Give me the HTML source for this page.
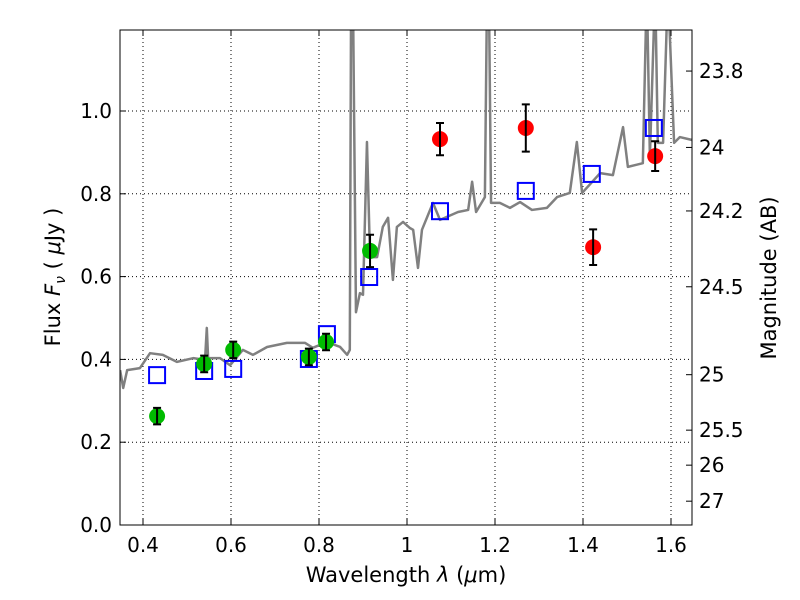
<!DOCTYPE html>
<html><head><meta charset="utf-8">
<style>body{margin:0;background:#fff}svg{display:block;font-family:"DejaVu Sans","Liberation Sans",sans-serif}</style>
</head><body>
<svg id="chart" width="800" height="600" viewBox="0 0 800 600">
<defs><clipPath id="clip"><rect x="120" y="30" width="572" height="495"/></clipPath></defs>
<rect x="0" y="0" width="800" height="600" fill="#fff"/>
<g id="grid"></g>
<g id="spec" clip-path="url(#clip)"></g>
<g id="marks"></g>
<rect x="120" y="30" width="572" height="495" fill="none" stroke="#000" stroke-width="1"/>
<g id="axes"></g>
<text x="406" y="582" font-size="21" text-anchor="middle">Wavelength  <tspan font-style="italic">λ</tspan> (<tspan font-style="italic">μ</tspan>m)</text>
<text transform="translate(60,277) rotate(-90)" font-size="21" text-anchor="middle">Flux  <tspan font-style="italic">F</tspan><tspan font-style="italic" font-size="14" dy="5">ν</tspan><tspan dy="-5">  ( </tspan><tspan font-style="italic">μ</tspan>Jy )</text>
<text transform="translate(776,278) rotate(-90)" font-size="21" text-anchor="middle">Magnitude (AB)</text>
</svg>
<script>
const specWl=[0.348,0.355,0.364,0.393,0.416,0.445,0.477,0.514,0.541,0.545,0.548,0.575,0.598,0.627,0.650,0.682,0.727,0.768,0.786,0.818,0.848,0.864,0.870,0.873,0.877,0.884,0.893,0.900,0.909,0.916,0.932,0.945,0.957,0.968,0.977,0.991,1.007,1.014,1.025,1.034,1.059,1.075,1.116,1.139,1.148,1.157,1.177,1.182,1.186,1.191,1.211,1.234,1.257,1.284,1.318,1.341,1.370,1.386,1.398,1.439,1.468,1.491,1.502,1.536,1.545,1.552,1.564,1.570,1.582,1.593,1.607,1.620,1.648];
const specFlux=[0.374,0.331,0.374,0.379,0.415,0.411,0.394,0.403,0.399,0.476,0.403,0.403,0.386,0.423,0.411,0.430,0.440,0.440,0.428,0.442,0.430,0.411,0.423,1.3,1.3,0.514,0.560,0.556,0.925,0.647,0.647,0.720,0.742,0.592,0.720,0.732,0.717,0.713,0.621,0.713,0.778,0.737,0.756,0.761,0.829,0.756,0.792,1.3,1.3,0.778,0.778,0.766,0.780,0.761,0.766,0.792,0.802,0.925,0.802,0.850,0.845,0.961,0.865,0.874,1.3,0.889,1.3,0.923,0.923,1.3,0.923,0.937,0.930];
const greenWl=[0.432,0.539,0.605,0.777,0.816,0.916];
const greenFlux=[0.263,0.389,0.423,0.406,0.442,0.662];
const greenErr=[0.02,0.02,0.02,0.02,0.02,0.039];
const redWl=[1.075,1.27,1.423,1.564];
const redFlux=[0.932,0.959,0.671,0.891];
const redErr=[0.039,0.057,0.043,0.036];
const modelWl=[0.432,0.539,0.605,0.777,0.818,0.914,1.075,1.27,1.42,1.561];
const modelFlux=[0.362,0.372,0.377,0.401,0.461,0.599,0.758,0.807,0.848,0.959];
const xTicks=[0.4,0.6,0.8,1.0,1.2,1.4,1.6];
const xTickLabels=["0.4","0.6","0.8","1","1.2","1.4","1.6"];
const yTicks=[0,0.2,0.4,0.6,0.8,1.0];
const yTickLabels=["0.0","0.2","0.4","0.6","0.8","1.0"];
const magTicks=[23.8,24,24.2,24.5,25,25.5,26,27];
const magTickLabels=["23.8","24","24.2","24.5","25","25.5","26","27"];

const NS="http://www.w3.org/2000/svg";
const X=v=>143+(v-0.4)*440;
const Y=v=>525-v*414;
const magY=m=>Y(Math.pow(10,(23.9-m)/2.5));
function mk(parent,tag,attrs){const e=document.createElementNS(NS,tag);for(const k in attrs)e.setAttribute(k,attrs[k]);document.getElementById(parent).appendChild(e);return e;}

xTicks.forEach((t,i)=>{
  const g=mk('grid','line',{x1:X(t),x2:X(t),y1:30,y2:525,stroke:'#000','stroke-dasharray':'1,3','stroke-width':1});
  
  
  mk('axes','line',{x1:X(t),x2:X(t),y1:525,y2:519,stroke:'#000'});
  mk('axes','line',{x1:X(t),x2:X(t),y1:30,y2:36,stroke:'#000'});
  const l=mk('axes','text',{x:X(t),y:552,'font-size':20,'text-anchor':'middle'});
  l.textContent=xTickLabels[i];
  
  
});
yTicks.forEach((t,i)=>{
  const g=mk('grid','line',{x1:120,x2:692,y1:Y(t),y2:Y(t),stroke:'#000','stroke-dasharray':'1,3','stroke-width':1});
  
  
  mk('axes','line',{x1:120,x2:126,y1:Y(t),y2:Y(t),stroke:'#000'});
  const l=mk('axes','text',{x:112,y:Y(t)+7,'font-size':20,'text-anchor':'end'});
  l.textContent=yTickLabels[i];
  
  
});
magTicks.forEach((m,i)=>{
  mk('axes','line',{x1:686,x2:692,y1:magY(m),y2:magY(m),stroke:'#000'});
  const l=mk('axes','text',{x:699,y:magY(m)+7,'font-size':20});
  l.textContent=magTickLabels[i];
  
  
});
const p=mk('spec','polyline',{points:specWl.map((w,i)=>X(w)+','+Y(specFlux[i])).join(' '),fill:'none',stroke:'#808080','stroke-width':2.5,'stroke-linejoin':'round'});



modelWl.forEach((w,i)=>{
  const r=mk('marks','rect',{x:X(w)-8,y:Y(modelFlux[i])-8,width:16,height:16,fill:'none',stroke:'#0000ff','stroke-width':2});
  
  
});
function pts(wl,fl,er,col,name){
  wl.forEach((w,i)=>{
    const c=mk('marks','circle',{cx:X(w),cy:Y(fl[i]),r:8,fill:col});
    
    
    const x=X(w),y1=Y(fl[i]-er[i]),y2=Y(fl[i]+er[i]);
    const e=mk('marks','path',{d:`M${x},${y1}V${y2}M${x-4},${y1}H${x+4}M${x-4},${y2}H${x+4}`,stroke:'#000','stroke-width':2,fill:'none'});
    
    
  });
}
pts(greenWl,greenFlux,greenErr,'#00bb00','optical-flux-point');
pts(redWl,redFlux,redErr,'#ff0000','nir-flux-point');
</script>
</body></html>
